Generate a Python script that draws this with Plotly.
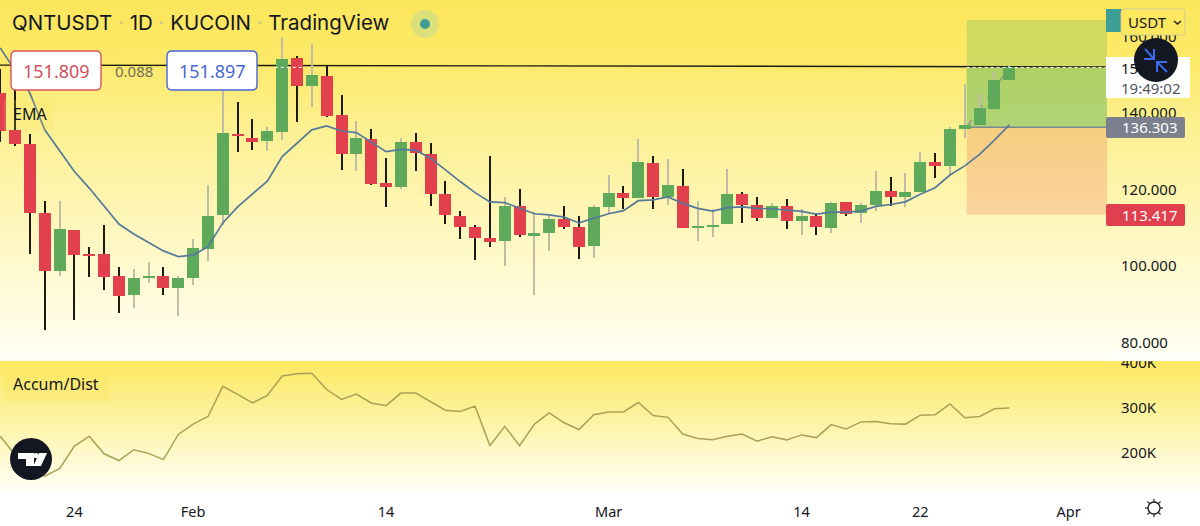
import pandas as pd
import plotly.graph_objects as go

W, H = 1200, 526
PLOT_RIGHT = 1107

# Daily QNT/USDT candles
dates = pd.date_range("2022-01-19", periods=69, freq="D")
opens = [145.3,135.6,131.9,114.0,98.7,109.4,103.2,103.1,97.5,92.5,97.1,97.5,94.3,
         96.9,104.6,113.3,134.5,133.6,132.7,135.1,154.3,147.0,149.7,139.6,129.4,133.1,121.6,120.8,
         132.4,129.3,118.8,113.2,110.2,107.4,106.7,115.8,107.9,108.6,112.3,110.2,105.3,
         115.5,119.1,117.7,127.0,118.1,120.9,110.0,110.2,111.0,118.8,116.0,112.6,115.8,111.7,
         113.0,110.0,116.7,113.8,115.9,119.6,118.1,119.3,127.2,126.2,135.9,136.8,141.0,148.6]
highs = [151.5,146.0,134.5,116.9,116.9,109.4,105.1,110.8,99.7,99.2,101.0,99.9,97.4,
         107.2,121.1,146.5,142.8,138.4,136.4,159.9,155.0,158.0,152.5,144.7,137.9,135.8,128.2,133.4,
         134.8,132.2,122.3,114.4,110.7,128.9,118.1,120.1,114.2,113.6,115.7,113.1,116.0,
         123.7,120.9,133.1,128.8,127.9,125.3,116.9,114.9,125.3,119.5,118.1,116.6,117.6,114.9,
         113.8,116.8,116.7,116.4,124.8,123.2,124.3,129.7,129.6,136.4,147.6,145.1,150.8,152.5]
lows = [132.4,131.4,103.2,83.3,97.4,85.9,97.3,93.8,87.7,89.2,95.7,92.6,87.0,
        95.0,101.3,110.8,129.9,130.3,130.2,132.9,137.6,141.6,139.0,125.1,124.9,121.2,115.4,120.2,
        124.9,115.7,111.0,107.2,101.6,105.1,100.0,107.7,92.5,104.0,109.8,102.0,102.1,
        113.9,114.9,117.7,114.9,115.9,110.0,106.7,107.7,111.0,111.2,111.7,112.6,109.8,108.2,
        108.2,108.6,113.1,111.4,114.3,115.7,115.4,119.3,122.9,123.8,133.4,136.8,141.0,148.6]
closes = [135.4,131.9,114.0,98.7,109.6,103.0,102.7,97.3,92.3,97.0,97.5,94.4,97.0,
          104.7,113.2,134.8,134.0,132.5,135.2,154.0,147.0,149.8,139.3,129.4,133.4,121.5,120.8,132.4,
          129.5,118.8,113.3,110.2,107.4,106.4,115.8,108.1,108.7,112.3,110.3,105.1,115.4,
          119.1,117.8,127.2,118.1,121.1,110.0,110.3,110.8,118.8,116.0,112.6,115.7,111.9,113.0,
          110.2,116.5,113.7,116.0,119.6,118.1,119.3,127.1,126.2,135.7,136.9,141.2,148.6,151.897]
ema = [157.0,151.2,145.2,135.6,130.1,124.7,120.4,115.7,111.0,108.4,106.3,104.0,102.5,
       102.9,105.1,111.3,115.5,118.8,122.2,128.6,132.2,135.6,136.6,135.3,134.9,132.5,129.9,130.5,
       130.3,128.2,125.1,122.1,119.2,116.8,116.6,115.1,113.7,113.4,112.8,111.3,112.4,
       113.7,114.5,117.1,117.3,118.1,116.4,115.1,114.4,115.3,115.5,115.1,115.0,114.6,114.3,
       113.6,114.1,114.1,114.4,115.6,116.1,116.8,118.8,120.5,123.8,126.2,129.2,132.9,136.9]
accum_dist = [237,196,163,148,165,215,237,198,183,207,199,185,241,
              264,281,348,330,311,328,371,376,377,341,319,331,311,305,333,
              333,314,295,292,304,216,259,216,264,289,267,252,285,
              291,291,312,283,279,242,232,229,237,242,226,236,229,240,
              234,263,253,269,270,265,264,284,285,309,278,281,298,300]

price_ticks = [80, 100, 120, 140, 160]
price_tick_text = ["80.000", "100.000", "120.000", "140.000", "160.000"]
accum_ticks = [200, 300, 400]
accum_tick_text = ["200K", "300K", "400K"]
date_ticks = ["2022-01-24", "2022-02-01", "2022-02-14", "2022-03-01", "2022-03-14", "2022-03-22", "2022-04-01"]
date_tick_text = ["24", "Feb", "14", "Mar", "14", "22", "Apr"]

entry_price = 136.303
stop_price = 113.417
target_price = 164.3
last_price = 151.897

RED = "#E2404D"
GREEN = "#5FA95B"
WICK_DOWN = "#1B1B12"
WICK_UP = "#BDBDA8"
FONT = "Noto Sans"
DAY_PX = 14.83
DAY_MS = 86400000


def px(x):
    return x / W


def py(y):
    return 1 - y / H


def mix(a, b, t):
    return "rgb(%d,%d,%d)" % tuple(round(a[i] + (b[i] - a[i]) * t) for i in range(3))


shapes = []


def rect(x0, y0, x1, y1, fill, line=None, width=0, layer="above"):
    shapes.append(dict(type="rect", xref="paper", yref="paper", x0=px(x0), x1=px(x1), y0=py(y0), y1=py(y1),
                       fillcolor=fill, line=dict(color=line or "rgba(0,0,0,0)", width=width), layer=layer))


def rounded(x0, y0, x1, y1, r, fill, line=None, width=0):
    path = (f"M {px(x0+r)} {py(y0)} L {px(x1-r)} {py(y0)} Q {px(x1)} {py(y0)} {px(x1)} {py(y0+r)} "
            f"L {px(x1)} {py(y1-r)} Q {px(x1)} {py(y1)} {px(x1-r)} {py(y1)} L {px(x0+r)} {py(y1)} "
            f"Q {px(x0)} {py(y1)} {px(x0)} {py(y1-r)} L {px(x0)} {py(y0+r)} Q {px(x0)} {py(y0)} {px(x0+r)} {py(y0)} Z")
    shapes.append(dict(type="path", xref="paper", yref="paper", path=path, fillcolor=fill,
                       line=dict(color=line or "rgba(0,0,0,0)", width=width), layer="above"))


def poly(points, fill=None, line=None, width=0):
    path = "M " + " L ".join(f"{px(a)} {py(b)}" for a, b in points) + (" Z" if fill else "")
    shapes.append(dict(type="path", xref="paper", yref="paper", path=path,
                       fillcolor=fill or "rgba(0,0,0,0)",
                       line=dict(color=line or "rgba(0,0,0,0)", width=width), layer="above"))


def disc(cx, cy, r, fill, line=None, width=0, layer="above"):
    shapes.append(dict(type="circle", xref="paper", yref="paper", x0=px(cx - r), x1=px(cx + r),
                       y0=py(cy + r), y1=py(cy - r), fillcolor=fill,
                       line=dict(color=line or "rgba(0,0,0,0)", width=width), layer=layer))


# Vertical yellow-to-white washes behind both panes
def wash(top, bottom, stops):
    for y in range(top, bottom, 1):
        t = (y - top) / (bottom - top)
        for (t0, c0), (t1, c1) in zip(stops, stops[1:]):
            if t0 <= t <= t1:
                rect(0, y, W, y + 1, mix(c0, c1, (t - t0) / (t1 - t0)), layer="below")
                break


wash(0, 361, [(0, (252, 230, 92)), (0.15, (253, 233, 102)), (0.36, (252, 240, 146)),
              (0.56, (254, 245, 178)), (0.83, (255, 251, 220)), (1, (255, 254, 245))])
wash(361, 494, [(0, (254, 233, 97)), (0.3, (252, 239, 142)), (0.6, (254, 247, 188)),
                (0.9, (255, 253, 235)), (1, (255, 255, 255))])

# Long position tool: reward and risk zones, then the open profit on top
range_end = "2022-04-03 14:00"
box_start = "2022-03-25 03:00"
for y0, y1, fill in [(entry_price, target_price, "rgba(76,175,80,0.25)"),
                     (entry_price, last_price, "rgba(76,175,90,0.24)"),
                     (stop_price, entry_price, "rgba(229,57,53,0.19)")]:
    shapes.append(dict(type="rect", xref="x", yref="y", x0=box_start, x1=range_end, y0=y0, y1=y1,
                       fillcolor=fill, line=dict(width=0), layer="below"))
shapes.append(dict(type="line", xref="x", yref="y", x0=box_start, x1=range_end, y0=entry_price, y1=entry_price,
                   line=dict(color="#7B8794", width=1.5), layer="below"))
shapes.append(dict(type="line", xref="x", yref="y", x0=box_start, x1="2022-03-28", y0=entry_price, y1=last_price,
                   line=dict(color="#8A9088", width=1.2, dash="dash"), layer="below"))
# Horizontal trend line across the chart
shapes.append(dict(type="line", xref="x", yref="y", x0="2022-01-18 23:40", x1=range_end, y0=152.5, y1=152.05,
                   line=dict(color="#1B1B12", width=1.4), layer="below"))

# Last-price dashes that show over the candles and the position tool
for x0, x1 in [("2022-02-06 12:00", "2022-02-08 12:00"), (box_start, range_end)]:
    shapes.append(dict(type="line", xref="x", yref="y", x0=x0, x1=x1, y0=last_price, y1=last_price,
                       line=dict(color="#FFFFFF", width=1, dash="dot"), layer="above"))

# Measure boxes
rounded(11, 51, 101, 90, 5, "#FFFFFF", "#D9545E", 1.4)
rounded(167, 51, 257, 90, 5, "#FFFFFF", "#4667D2", 1.4)

# Faint plates behind the study names
rect(4, 100, 54, 130, "rgba(252,226,90,0.18)")
rect(5, 369, 110, 402, "rgba(252,226,90,0.25)")

# Price scale labels
rect(1106, 57, 1190, 98, "#FFFFFF")
disc(1156, 60, 22, "#131722")
for pts in ([(1145, 49), (1154, 59)], [(1144, 59), (1154, 59), (1154, 49)],
            [(1167, 72), (1157, 62)], [(1167, 62), (1157, 62), (1157, 72)]):
    poly(pts, None, "#3D6BEE", 2)
rounded(1106, 117, 1185, 138, 2, "#7C808E")
rounded(1106, 204, 1185, 226, 2, "#E0404D")
rect(1106, 9, 1122, 32, "#3C9E94")
rounded(1121, 9, 1185, 35, 3, "#FDE85F", "#D0CB90", 1)
poly([(1174, 21), (1177.5, 24), (1181, 21)], None, "#222222", 1.5)

# Strip closing the top of the lower price scale
rect(PLOT_RIGHT, 352, W, 361, "#FFFEF8")

# Status dot beside the header
disc(425, 24, 14, "#DCE07A")
disc(425, 24, 5, "#3E9E94")

# Round brand badge
disc(31, 459, 21, "#131722")
poly([(18, 453), (34, 453), (34, 466), (26, 466), (26, 459), (18, 459)], "#FFFFFF")
disc(36, 455.5, 2.6, "#FFFFFF")
poly([(39, 453), (47, 453), (41, 466), (33.5, 466)], "#FFFFFF")

# Theme toggle
disc(1154, 508, 6, "rgba(0,0,0,0)", "#222222", 1.4)
for a, b, c, d in [(1154, 499, 1154, 502), (1154, 514, 1154, 517), (1145, 508, 1148, 508), (1160, 508, 1163, 508),
                   (1147.5, 501.5, 1149.7, 503.7), (1158.3, 512.3, 1160.5, 514.5),
                   (1160.5, 501.5, 1158.3, 503.7), (1149.7, 512.3, 1147.5, 514.5)]:
    poly([(a, b), (c, d)], None, "#222222", 1.2)


def label(x, y, text, size=15, color="#131722", family=FONT, anchor="left"):
    return dict(xref="paper", yref="paper", x=px(x), y=py(y), text=text, showarrow=False,
                xanchor=anchor, yanchor="middle", borderpad=0,
                font=dict(family=family, size=size, color=color))


dot = "<span style='color:#C9C68E'> · </span>"
annotations = [
    label(11, 23, f"QNTUSDT{dot}1D{dot}KUCOIN{dot}TradingView", 20.5, "#131722", "Inter"),
    label(56, 71, "151.809", 18, "#D0505C", anchor="center"),
    label(134, 71, "0.088", 15, "#6E6E5C", anchor="center"),
    label(212, 71, "151.897", 18, "#4667D2", anchor="center"),
    label(12, 114, "EMA", 16),
    label(12, 384, "Accum/Dist", 16),
    label(1120, 68, "15", 15),
    label(1120, 88, "19:49:02", 15, "#50535E"),
    label(1121, 127.5, "136.303", 15, "#FFFFFF"),
    label(1121, 215, "113.417", 15, "#FFFFFF"),
    label(1127, 22, "USDT", 15),
]

spans = [c >= o for o, c in zip(opens, closes)]
fig = go.Figure()

# Wicks
fig.add_trace(go.Bar(
    x=dates, y=[h - l for h, l in zip(highs, lows)], base=lows,
    width=2 / DAY_PX * DAY_MS,
    marker=dict(color=[WICK_UP if up else WICK_DOWN for up in spans], line_width=0),
    hoverinfo="skip", xaxis="x", yaxis="y"))
# Bodies
fig.add_trace(go.Bar(
    x=dates, y=[abs(c - o) for o, c in zip(opens, closes)], base=[min(o, c) for o, c in zip(opens, closes)],
    width=12 / DAY_PX * DAY_MS,
    marker=dict(color=[GREEN if up else RED for up in spans], line_width=0),
    hoverinfo="skip", xaxis="x", yaxis="y"))
# EMA
fig.add_trace(go.Scatter(x=dates, y=ema, mode="lines", line=dict(color="#55799A", width=1.7),
                         hoverinfo="skip", xaxis="x", yaxis="y"))
# Accumulation/Distribution
fig.add_trace(go.Scatter(x=dates, y=accum_dist, mode="lines", line=dict(color="#A9A155", width=1.5),
                         hoverinfo="skip", xaxis="x", yaxis="y2"))

x_range = ["2022-01-18 23:40", range_end]
y_font = dict(family=FONT, size=15, color="#131722")
fig.update_layout(
    width=W, height=H, autosize=False, showlegend=False, barmode="overlay", bargap=0,
    margin=dict(l=0, r=0, t=0, b=0, autoexpand=False),
    paper_bgcolor="#FFFFFF", plot_bgcolor="rgba(0,0,0,0)",
    xaxis=dict(domain=[0, PLOT_RIGHT / W], range=x_range, type="date", anchor="y2",
               tickvals=date_ticks, ticktext=date_tick_text, showgrid=False, zeroline=False,
               ticks="outside", ticklen=7, tickcolor="rgba(0,0,0,0)", showline=False,
               tickfont=dict(family=FONT, size=14.5, color="#131722")),
    yaxis=dict(domain=[py(361), 1], range=[75.25, 169.5], side="right", anchor="x",
               tickvals=price_ticks, ticktext=price_tick_text, showgrid=False, zeroline=False,
               ticks="outside", ticklen=10, tickcolor="rgba(0,0,0,0)", tickfont=y_font),
    yaxis2=dict(domain=[py(492), py(361)], range=[113, 404.4], side="right", anchor="x",
                tickvals=accum_ticks, ticktext=accum_tick_text, showgrid=False, zeroline=False,
                ticks="outside", ticklen=10, tickcolor="rgba(0,0,0,0)", tickfont=y_font),
    shapes=shapes, annotations=annotations,
)

fig.write_html("out.html")
